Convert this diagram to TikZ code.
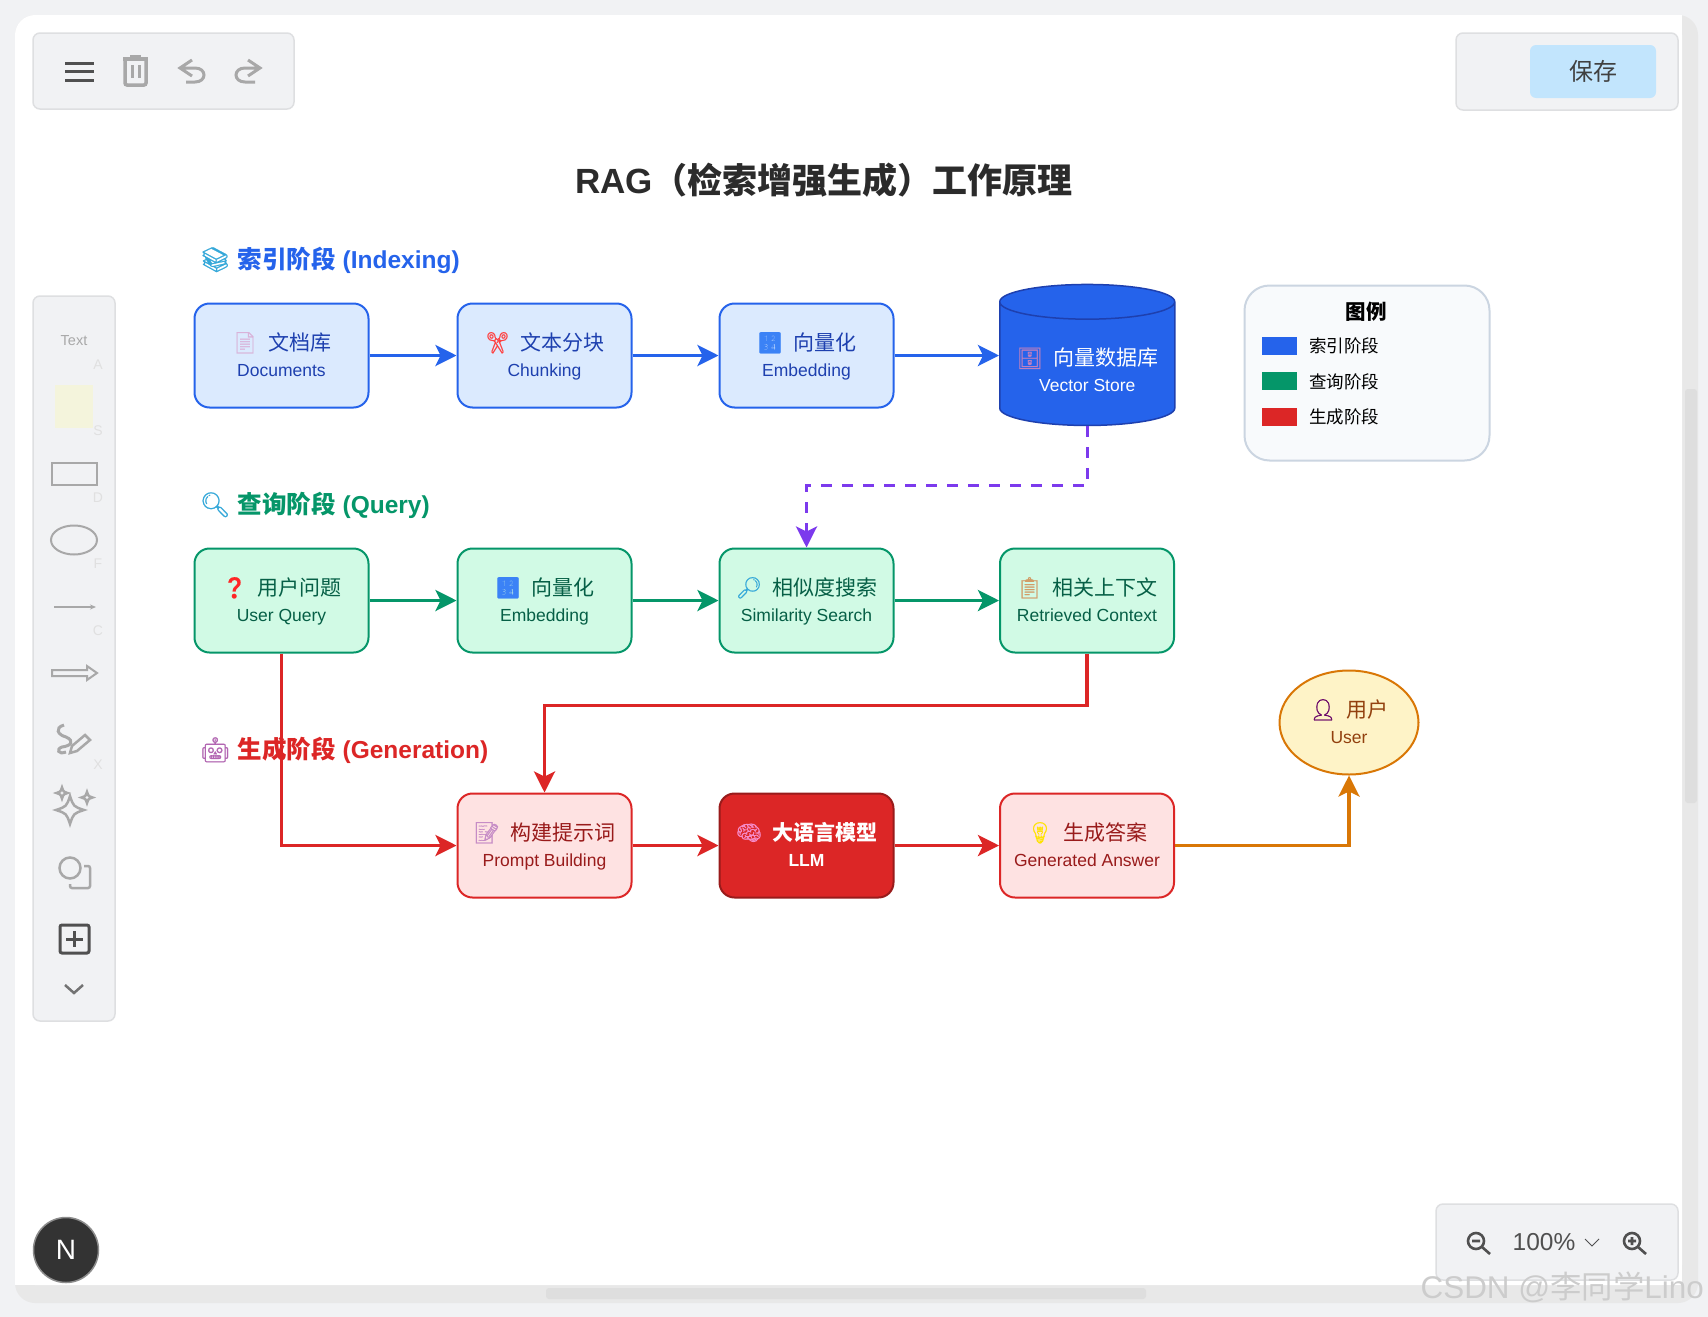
\documentclass[tikz,border=0pt]{standalone}
\usepackage{xcolor}
\usepackage{fontspec}
\setmainfont{Liberation Sans}
\newfontfamily\cjk{Noto Sans CJK SC}
\newfontfamily\emofont[FakeBold=.8]{Noto Emoji}
\usetikzlibrary{arrows.meta,positioning,shapes.geometric}
\definecolor{indexblue}{HTML}{2563EB}
\definecolor{indexfill}{HTML}{DBEAFE}
\definecolor{indexdark}{HTML}{1E40AF}
\definecolor{querygreen}{HTML}{059669}
\definecolor{queryfill}{HTML}{D1FAE5}
\definecolor{querydark}{HTML}{065F46}
\definecolor{genred}{HTML}{DC2626}
\definecolor{genfill}{HTML}{FEE2E2}
\definecolor{gendark}{HTML}{991B1B}
\definecolor{linkpurple}{HTML}{7C3AED}
\definecolor{useramber}{HTML}{D97706}
\definecolor{userfill}{HTML}{FEF3C7}
\definecolor{userdark}{HTML}{92400E}
\definecolor{panelgray}{HTML}{F1F2F4}
\definecolor{panelline}{HTML}{DEDFE1}
\definecolor{icongray}{HTML}{A8A8A8}
\definecolor{icondark}{HTML}{505050}
\definecolor{savefill}{HTML}{C2E5FD}
\definecolor{stickyfill}{HTML}{F4F4DC}
\definecolor{legendfill}{HTML}{F8FAFC}
\definecolor{legendline}{HTML}{CBD5E1}
\definecolor{emojiblue}{HTML}{3B82F6}
\definecolor{emojicyan}{HTML}{35A8D9}
\newcommand{\zh}[1]{{\cjk #1}}
\newcommand{\emo}[2]{\textcolor{#1}{\emofont #2}}
\newcommand{\stepline}[4]{{\fontsize{21}{26}\selectfont\rule[-6pt]{0pt}{27pt}\emo{#1}{#2}\hspace{10pt}\zh{#3}}\\\rule[-6pt]{0pt}{20pt}#4}
\newcommand{\sparkle}[3]{%
  (#1,#2-#3) .. controls (#1+.25*#3,#2-.25*#3) .. (#1+#3,#2)
  .. controls (#1+.25*#3,#2+.25*#3) .. (#1,#2+#3)
  .. controls (#1-.25*#3,#2+.25*#3) .. (#1-#3,#2)
  .. controls (#1-.25*#3,#2-.25*#3) .. cycle}
\tikzset{
  stepbox/.style={
    rounded corners=15pt, line width=2pt, inner sep=0pt,
    minimum width=174pt, minimum height=104pt,
    align=center, font=\fontsize{17.5}{26}\selectfont,
  },
  indexstep/.style={stepbox, draw=indexblue, fill=indexfill, text=indexdark},
  querystep/.style={stepbox, draw=querygreen, fill=queryfill, text=querydark},
  genstep/.style={stepbox, draw=genred, fill=genfill, text=gendark},
  arrow/.style={-{Stealth[length=21pt,width=21pt,inset=5pt]}, line width=3.2pt},
  sectionlbl/.style={anchor=west, inner sep=0pt, font=\fontsize{24.5}{28}\selectfont\bfseries},
  legendbox/.style={minimum width=35pt, minimum height=18pt, inner sep=0pt},
  legendlbl/.style={anchor=west, inner sep=0pt, font=\fontsize{17.5}{20}\selectfont\cjk},
  panel/.style={draw=panelline, fill=panelgray, line width=1.5pt, rounded corners=7pt, inner sep=0pt},
  toolicon/.style={draw=icongray, line width=2.5pt},
  hintlbl/.style={inner sep=0pt, text=black!12, font=\fontsize{14}{14}\selectfont},
}

\begin{document}
\begin{tikzpicture}[x=1pt,y=-1pt]

  \useasboundingbox (0,0) rectangle (1708,1317);
  \fill[panelgray] (0,0) rectangle (1708,1317);
  \fill[black!9, rounded corners=20pt] (15,15) rectangle (1698,1303);
  \fill[white, rounded corners=20pt] (15,15) -- (1682,15) -- (1682,1285) -- (15,1285) -- cycle;
  \fill[white] (1600,15) rectangle (1682,1285);
  \fill[white] (15,1200) rectangle (1682,1285);
  % scrollbars
  \fill[black!13, rounded corners=3pt] (546,1288) rectangle (1146,1299);
  \fill[black!13, rounded corners=3pt] (1685,389) rectangle (1697,803);

  % app panels
  \node[panel, minimum width=261pt, minimum height=76pt] (topbar) at (163.5,71) {};
  \node[panel, minimum width=222pt, minimum height=77pt] (savebar) at (1567,71.5) {};
  \node[panel, minimum width=82pt, minimum height=725pt] (sidebar) at (74,658.5) {};
  \node[panel, minimum width=242pt, minimum height=76pt] (zoombar) at (1557,1242) {};
  \node[fill=savefill, rounded corners=6pt, minimum width=126pt, minimum height=53pt,
    inner sep=0pt, text=black!75, font=\fontsize{24}{24}\selectfont\cjk] (savebtn) at (1593,71.5) {保存};

  % top bar icons
  \foreach \y in {63,71.5,80}
    \draw[icondark, line width=3pt] (65,\y) -- (94,\y);
  \draw[toolicon, line width=3.5pt] (123,59) -- (148,59) (130,57) -- (141,57);
  \draw[toolicon, line width=3.5pt, rounded corners=2pt] (125,60) -- (125,85) -- (146,85) -- (146,60);
  \draw[toolicon, line width=3pt] (132,65) -- (132,78) (139,65) -- (139,78);
  \draw[toolicon, line width=3pt] (192,60) -- (180,68) -- (192,76) (180,68) -- (195,68)
    .. controls (207,68) and (207,82) .. (195,82) -- (186,82);
  \draw[toolicon, line width=3pt] (248,60) -- (260,68) -- (248,76) (260,68) -- (245,68)
    .. controls (233,68) and (233,82) .. (245,82) -- (255,82);

  % side bar icons
  \node[inner sep=0pt, text=icongray, font=\fontsize{14.5}{15}\selectfont] (textlbl) at (74,341) {Text};
  \foreach \k/\y in {A/365,S/431,D/498,F/564,C/631,X/765}
    \node[hintlbl] (hint\k) at (98,\y) {\k};
  \fill[stickyfill] (55,385) rectangle (93,428);
  \draw[toolicon] (52,463) rectangle (97,485);
  \draw[toolicon, line width=2pt] (74,540) ellipse (23pt and 14.5pt);
  \draw[icongray, line width=1.5pt, -{Stealth[length=6pt,width=5pt]}] (54,607) -- (96,607);
  \draw[toolicon, line width=2pt] (52,670) -- (87,670) -- (87,666) -- (97,673) -- (87,680) -- (87,676) -- (52,676) -- cycle;
  \draw[toolicon, line width=3pt] (64,725) .. controls (54,728) and (58,735) .. (66,737)
    .. controls (75,741) and (71,746) .. (62,747) .. controls (56,749) and (58,755) .. (66,752);
  \draw[toolicon, line width=2.5pt] (70,753) -- (72,746) -- (85,735) -- (90,740) -- (77,751) -- cycle;
  \draw[toolicon, line width=2.5pt] \sparkle{70}{810}{14};
  \draw[toolicon, line width=2.5pt] \sparkle{62}{793}{5.5};
  \draw[toolicon, line width=2.5pt] \sparkle{87}{797.5}{5.5};
  \draw[toolicon] (70,868) circle (10.5pt);
  \draw[toolicon, rounded corners=2pt] (84,866) -- (90,866) -- (90,888) -- (70,888) -- (70,884);
  \draw[draw=icondark, line width=3pt, rounded corners=2pt] (60,925) rectangle (89,953);
  \draw[icondark, line width=3pt] (74.5,931) -- (74.5,947) (66,939) -- (83,939);
  \draw[draw=black!55, line width=2.5pt] (65,985) -- (74,993) -- (83,985);

  % zoom bar
  \draw[icondark, line width=2.6pt] (1476,1241) circle (8pt) (1482,1247) -- (1490,1254) (1472,1241) -- (1480,1241);
  \node[inner sep=0pt, text=icondark, font=\fontsize{24.5}{25}\selectfont] (zoomlbl) at (1544,1242) {100\%};
  \draw[icondark, line width=1pt] (1585,1239) -- (1592,1246) -- (1599,1239);
  \draw[icondark, line width=2.6pt] (1632,1241) circle (8pt) (1638,1247) -- (1646,1254) (1628,1241) -- (1636,1241) (1632,1237) -- (1632,1245);
  \node[circle, draw=black!45, fill=black!80, line width=1.5pt, minimum size=65pt, inner sep=0pt,
    text=white, font=\fontsize{28}{28}\selectfont] (nbtn) at (66,1250) {N};

  % title and section labels
  \node[inner sep=0pt, text=black!83, font=\fontsize{35}{40}\selectfont\bfseries] (title) at (824,180)
    {RAG\zh{（检索增强生成）工作原理}};
  \node[sectionlbl, text=indexblue] (indexlbl) at (199.5,260)
    {\emo{emojicyan}{📚}\hspace{7pt}\zh{索引阶段} (Indexing)};
  \node[sectionlbl, text=querygreen] (querylbl) at (199.5,505)
    {\emo{emojicyan}{🔍}\hspace{7pt}\zh{查询阶段} (Query)};
  \node[sectionlbl, text=genred] (genlbl) at (199.5,750)
    {\emo{violet!60}{🤖}\hspace{7pt}\zh{生成阶段} (Generation)};

  % indexing row
  \node[indexstep] (docs) at (281.5,355.5)
    {\stepline{violet!30}{📄}{文档库}{Documents}};
  \node[indexstep, right=87pt of docs] (chunk)
    {\stepline{red!75}{✂}{文本分块}{Chunking}};
  \node[indexstep, right=86pt of chunk] (embedA)
    {\stepline{emojiblue}{🔢}{向量化}{Embedding}};
  \node[cylinder, shape border rotate=90, aspect=.245, draw=indexdark, fill=indexblue, text=white,
    line width=1.5pt, inner sep=0pt, minimum width=175pt, minimum height=141pt,
    align=center, font=\fontsize{17.5}{26}\selectfont, right=104.5pt of embedA, yshift=-8.5pt] (vstore)
    {\rule{0pt}{35pt}\stepline{violet!50}{🗄}{向量数据库}{Vector Store}};

  % query row
  \node[querystep, below=139pt of docs] (query)
    {\stepline{red!85}{❓}{用户问题}{User Query}};
  \node[querystep, right=87pt of query] (embedB)
    {\stepline{emojiblue}{🔢}{向量化}{Embedding}};
  \node[querystep, right=86pt of embedB] (search)
    {\stepline{emojicyan}{🔎}{相似度搜索}{Similarity Search}};
  \node[querystep, right=104.5pt of search] (context)
    {\stepline{orange!70!black!60}{📋}{相关上下文}{Retrieved Context}};

  % generation row
  \node[genstep, below=139pt of embedB] (prompt)
    {\stepline{violet!45}{📝}{构建提示词}{Prompt Building}};
  \node[genstep, draw=gendark, fill=genred, text=white, right=86pt of prompt,
    font=\fontsize{17.5}{26}\selectfont\bfseries] (llm)
    {\stepline{magenta!45}{🧠}{大语言模型}{LLM}};
  \node[genstep, right=104.5pt of llm] (answer)
    {\stepline{yellow!85!orange}{💡}{生成答案}{Generated Answer}};
  \node[ellipse, draw=useramber, fill=userfill, text=userdark, line width=2pt, inner sep=0pt,
    minimum width=139pt, minimum height=104pt, align=center,
    font=\fontsize{17.5}{26}\selectfont] (user) at (1349,722.5)
    {\stepline{violet!80!black}{👤}{用户}{User}};

  % legend
  \node[fill=legendfill, draw=legendline, line width=2pt, rounded corners=25pt,
    minimum width=245pt, minimum height=175pt, inner sep=0pt] (legend) at (1367,373) {};
  \node[inner sep=0pt, font=\fontsize{20.5}{22}\selectfont\cjk\bfseries] (legendtitle) at (1366,312) {图例};
  \node[legendbox, fill=indexblue] (swatchA) at (1279.5,346) {};
  \node[legendbox, fill=querygreen, below=17pt of swatchA] (swatchB) {};
  \node[legendbox, fill=genred, below=17pt of swatchB] (swatchC) {};
  \node[legendlbl, right=12pt of swatchA] (legendA) {索引阶段};
  \node[legendlbl, right=12pt of swatchB] (legendB) {查询阶段};
  \node[legendlbl, right=12pt of swatchC] (legendC) {生成阶段};

  % connectors
  \draw[arrow, indexblue] (docs) -- (chunk);
  \draw[arrow, indexblue] (chunk) -- (embedA);
  \draw[arrow, indexblue] (embedA) -- (embedA -| vstore.west);
  \draw[arrow, linkpurple, dash pattern=on 11pt off 10pt] (vstore.south) -- ++(0,59.5) -| (search.north);
  \draw[arrow, querygreen] (query) -- (embedB);
  \draw[arrow, querygreen] (embedB) -- (search);
  \draw[arrow, querygreen] (search) -- (context);
  \draw[arrow, genred] (query.south) |- (prompt.west);
  \draw[arrow, genred] (context.south) -- ++(0,52) -| (prompt.north);
  \draw[arrow, genred] (prompt) -- (llm);
  \draw[arrow, genred] (llm) -- (answer);
  \draw[arrow, useramber] (answer.east) -| (user.south);

  % watermark
  \node[inner sep=0pt, anchor=east, text=black!20, font=\fontsize{31.4}{34}\selectfont] (watermark) at (1704,1287)
    {CSDN @\zh{李同学}Lino};

\end{tikzpicture}
\end{document}
